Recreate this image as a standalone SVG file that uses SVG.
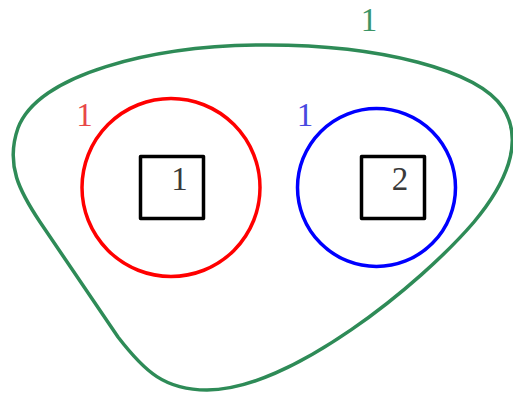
<svg xmlns="http://www.w3.org/2000/svg" width="513" height="393" viewBox="0 0 513 393">
<style>
.lbl{font-family:"Liberation Serif","DejaVu Serif",serif;font-size:33px;text-anchor:middle}
.box{fill:none;stroke:#000;stroke-width:3.5;stroke-linejoin:round}
</style>
<rect width="513" height="393" fill="#fff"/>
<g id="green">
<path d="M207,390 C165,390 145,372 118,337 L40,222 C20,192 5,165 18,128 C38,75 150,45 267,45 C380,45 478,70 503,108 C525,142 505,185 474,222 C420,285 290,390 207,390 Z" fill="none" stroke="#2E8B57" stroke-width="3.5"/>
<text class="lbl" x="369" y="31" fill="#3C9466">1</text>
</g>
<g id="red">
<circle cx="171" cy="187.5" r="89" fill="none" stroke="#FF0000" stroke-width="3.5"/>
<text class="lbl" x="84.5" y="126" fill="#E84848">1</text>
</g>
<g id="blue">
<circle cx="376.5" cy="187.5" r="79" fill="none" stroke="#0000FF" stroke-width="3.5"/>
<text class="lbl" x="305" y="126" fill="#4848E0">1</text>
</g>
<g id="node1">
<rect class="box" x="140.5" y="156.5" width="63" height="62"/>
<text class="lbl" x="179.5" y="189.5" fill="#3a3a3a">1</text>
</g>
<g id="node2">
<rect class="box" x="361.5" y="156.5" width="63" height="62"/>
<text class="lbl" x="400" y="189.5" fill="#3a3a3a">2</text>
</g>
<g id="connectors"/>
</svg>
